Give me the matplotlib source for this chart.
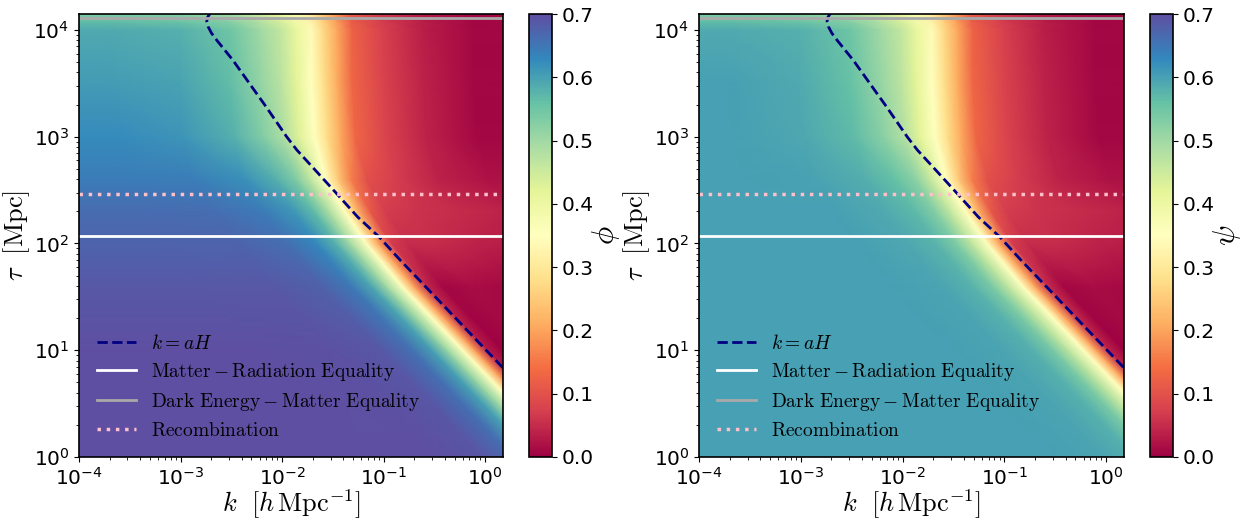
import numpy as np
import matplotlib
matplotlib.use('Agg')
import matplotlib.pyplot as plt

plt.rcParams['mathtext.fontset'] = 'cm'
plt.rcParams['font.family'] = 'DejaVu Sans'
plt.rcParams['axes.unicode_minus'] = False

# ---- sampled field values read from the picture -------------------------
# rows: log10(tau / Mpc); each row is sampled across the transition band,
# whose centre (value ~0.35) sits at ROW_CENTER_LOG_K; OFFSETS are decades
# in k relative to that centre.
ROW_LOG_TAU = [-0.01, 1.0, 1.6, 2.0, 2.3, 2.6, 3.0, 3.5, 4.0, 4.08, 4.16]
ROW_CENTER_LOG_K = [0.79, -0.22, -0.82, -1.17, -1.38, -1.57, -1.68, -1.71, -1.71, -1.72, -1.73]
OFFSETS = [-8, -2.0, -1.3, -0.8, -0.5, -0.3, -0.15, 0, 0.12, 0.25, 0.4, 0.7, 1.1, 1.6, 8]

PHI = [
    [0.700, 0.700, 0.699, 0.690, 0.660, 0.600, 0.505, 0.350, 0.190, 0.030, 0.000, 0.010, 0.000, 0.000, 0.000],
    [0.698, 0.698, 0.697, 0.688, 0.658, 0.599, 0.504, 0.350, 0.190, 0.030, 0.000, 0.010, 0.000, 0.000, 0.000],
    [0.688, 0.688, 0.687, 0.677, 0.647, 0.592, 0.500, 0.350, 0.195, 0.045, 0.010, 0.015, 0.010, 0.005, 0.005],
    [0.675, 0.675, 0.673, 0.660, 0.630, 0.578, 0.492, 0.350, 0.200, 0.070, 0.050, 0.050, 0.040, 0.030, 0.030],
    [0.662, 0.662, 0.659, 0.644, 0.611, 0.564, 0.483, 0.350, 0.220, 0.110, 0.070, 0.060, 0.050, 0.040, 0.030],
    [0.645, 0.645, 0.640, 0.620, 0.585, 0.538, 0.467, 0.350, 0.250, 0.160, 0.100, 0.070, 0.040, 0.020, 0.010],
    [0.625, 0.625, 0.614, 0.582, 0.530, 0.483, 0.427, 0.350, 0.280, 0.210, 0.130, 0.080, 0.040, 0.010, 0.000],
    [0.607, 0.607, 0.597, 0.565, 0.514, 0.473, 0.422, 0.350, 0.280, 0.210, 0.130, 0.080, 0.040, 0.010, 0.000],
    [0.590, 0.590, 0.580, 0.550, 0.500, 0.460, 0.410, 0.340, 0.270, 0.205, 0.125, 0.075, 0.035, 0.010, 0.000],
    [0.565, 0.565, 0.555, 0.527, 0.480, 0.440, 0.390, 0.325, 0.260, 0.195, 0.120, 0.070, 0.035, 0.010, 0.000],
    [0.530, 0.530, 0.520, 0.495, 0.450, 0.410, 0.365, 0.305, 0.245, 0.185, 0.110, 0.065, 0.030, 0.010, 0.000],
]

PSI = [
    [0.600, 0.600, 0.600, 0.595, 0.580, 0.540, 0.470, 0.350, 0.200, 0.040, 0.000, 0.010, 0.000, 0.000, 0.000],
    [0.600, 0.600, 0.600, 0.595, 0.580, 0.540, 0.470, 0.350, 0.200, 0.040, 0.000, 0.010, 0.000, 0.000, 0.000],
    [0.600, 0.600, 0.600, 0.594, 0.578, 0.538, 0.468, 0.350, 0.200, 0.050, 0.010, 0.015, 0.010, 0.005, 0.005],
    [0.600, 0.600, 0.600, 0.593, 0.575, 0.535, 0.465, 0.350, 0.200, 0.070, 0.050, 0.050, 0.040, 0.030, 0.030],
    [0.600, 0.600, 0.600, 0.590, 0.570, 0.530, 0.460, 0.350, 0.220, 0.110, 0.070, 0.060, 0.050, 0.040, 0.030],
    [0.600, 0.600, 0.598, 0.585, 0.560, 0.520, 0.455, 0.350, 0.250, 0.160, 0.100, 0.070, 0.040, 0.020, 0.010],
    [0.600, 0.600, 0.593, 0.568, 0.520, 0.477, 0.423, 0.350, 0.280, 0.210, 0.130, 0.080, 0.040, 0.010, 0.000],
    [0.600, 0.600, 0.590, 0.560, 0.510, 0.470, 0.420, 0.350, 0.280, 0.210, 0.130, 0.080, 0.040, 0.010, 0.000],
    [0.590, 0.590, 0.580, 0.550, 0.500, 0.460, 0.410, 0.340, 0.270, 0.205, 0.125, 0.075, 0.035, 0.010, 0.000],
    [0.565, 0.565, 0.555, 0.527, 0.480, 0.440, 0.390, 0.325, 0.260, 0.195, 0.120, 0.070, 0.035, 0.010, 0.000],
    [0.530, 0.530, 0.520, 0.495, 0.450, 0.410, 0.365, 0.305, 0.245, 0.185, 0.110, 0.065, 0.030, 0.010, 0.000],
]

# k = aH curve (log10 tau, log10 k)
KAH_LOG_TAU = [4.16, 4.12, 4.08, 4.03, 3.97, 3.90, 3.82, 3.72, 3.60, 3.45, 3.30,
               3.129, 3.00, 2.876, 2.689, 2.473, 2.248, 2.061, 1.845, 0.834, 0.71]
KAH_LOG_K = [-2.705, -2.733, -2.742, -2.728, -2.695, -2.640, -2.572, -2.487, -2.397,
             -2.285, -2.172, -2.048, -1.955, -1.855, -1.675, -1.468, -1.255, -1.044,
             -0.837, 0.177, 0.30]

TAU_EQ = 117.0      # matter-radiation equality [Mpc]
TAU_DE = 12900.0    # dark energy-matter equality [Mpc]
TAU_REC = 290.0     # recombination [Mpc]

K_LIM = (1e-4, 1.5)
TAU_LIM = (1.0, 1.41e4)
CB_TICKS = [0.0, 0.1, 0.2, 0.3, 0.4, 0.5, 0.6, 0.7]

W, H = 1251, 520
fig = plt.figure(figsize=(W / 100, H / 100), dpi=100)


def box(x0, x1, y0, y1):
    return [x0 / W, 1 - y1 / H, (x1 - x0) / W, (y1 - y0) / H]


panels = [
    (PHI, r'$\phi$', box(79, 503, 14, 457), box(529, 552, 14, 457)),
    (PSI, r'$\psi$', box(699, 1124, 14, 457), box(1150, 1173, 14, 457)),
]

lt = np.array(ROW_LOG_TAU)[:, None]
cen = np.array(ROW_CENTER_LOG_K)[:, None]
off = np.array(OFFSETS)[None, :]
X = 10.0 ** (cen + off)
Y = 10.0 ** (lt + 0.0 * off)

for Z, cblabel, axpos, cbpos in panels:
    ax = fig.add_axes(axpos)
    m = ax.pcolormesh(X, Y, np.array(Z), shading='gouraud', cmap='Spectral',
                      vmin=0, vmax=0.7, rasterized=True)
    ax.set_xscale('log')
    ax.set_yscale('log')
    ax.plot(10.0 ** np.array(KAH_LOG_K), 10.0 ** np.array(KAH_LOG_TAU),
            color='navy', ls='--', lw=2, label=r'$k = aH$')
    ax.axhline(TAU_EQ, color='white', lw=2,
               label=r'$\mathrm{Matter-Radiation\ Equality}$')
    ax.axhline(TAU_DE, color='darkgray', lw=2,
               label=r'$\mathrm{Dark\ Energy-Matter\ Equality}$')
    ax.axhline(TAU_REC, color='pink', lw=2.5, ls=':',
               label=r'$\mathrm{Recombination}$')
    ax.set_xlim(*K_LIM)
    ax.set_ylim(*TAU_LIM)
    ax.set_xlabel(r'$k\ \ [h\,\mathrm{Mpc}^{-1}]$', fontsize=19, labelpad=-1)
    ax.set_ylabel(r'$\tau\ \ [\mathrm{Mpc}]$', fontsize=19, labelpad=1)
    ax.tick_params(labelsize=14.5)
    for s in ax.spines.values():
        s.set_linewidth(1.2)
    ax.legend(loc='lower left', frameon=False, fontsize=14, labelspacing=0.4,
              bbox_to_anchor=(0.001, 0.0))
    cax = fig.add_axes(cbpos)
    cb = fig.colorbar(m, cax=cax, ticks=CB_TICKS)
    cb.ax.tick_params(labelsize=14.5)
    cb.set_label(cblabel, fontsize=22, labelpad=-3)
    cb.outline.set_linewidth(1.2)

fig.savefig('out.png', dpi=100)
